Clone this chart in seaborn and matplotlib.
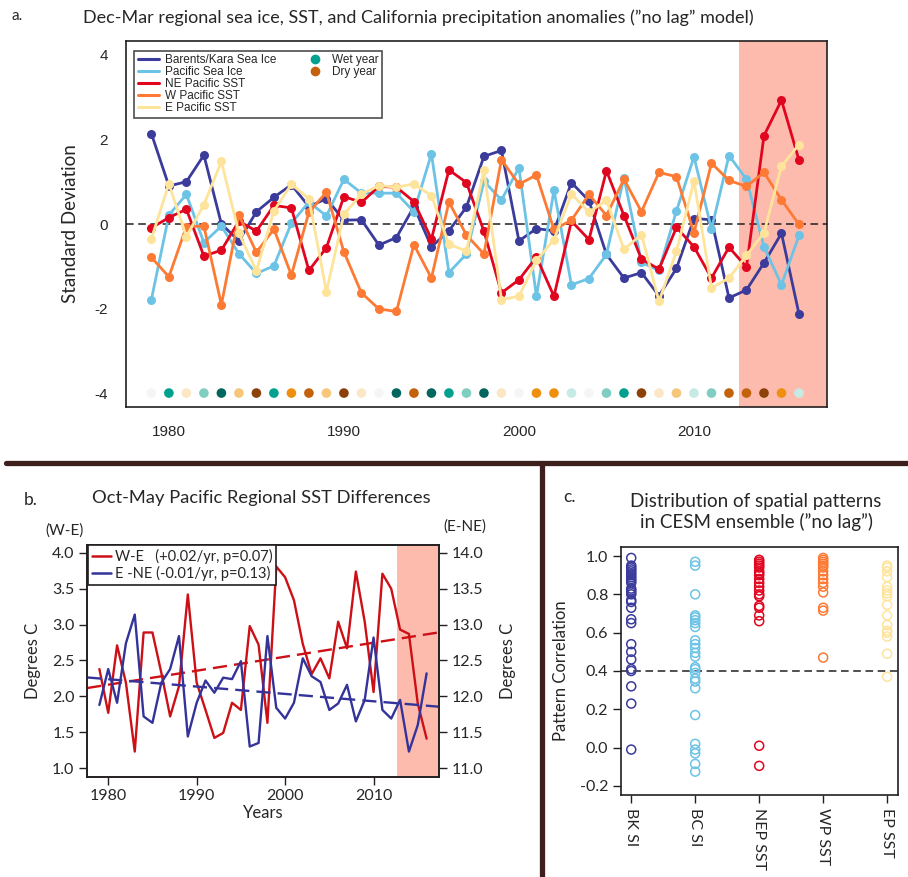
import numpy as np
import pandas as pd
import matplotlib.pyplot as plt
import seaborn as sns
from matplotlib.lines import Line2D

# ---- panel a: Dec-Mar standardized anomalies, 1979-2016 ----
years = list(range(1979, 2017))
bk_ice = [2.14, 0.90, 1.00, 1.63, 0.00, -0.40, 0.29, 0.63, 0.93, 0.41, 0.60, 0.09, 0.10, -0.50,
          -0.32, 0.41, -0.54, -0.16, 0.40, 1.60, 1.74, -0.40, -0.11, -0.16, 0.98, 0.55, -0.72, -1.28,
          -1.15, -1.70, -1.05, 0.13, 0.10, -1.75, -1.56, -0.92, -0.22, -2.13]
pac_ice = [-1.79, 0.21, 0.70, -0.44, -0.05, -0.70, -1.17, -0.99, 0.02, 0.52, 0.19, 1.06, 0.73, 0.73,
           0.73, 0.29, 1.66, -1.15, -0.71, 1.01, 0.57, 1.33, -1.71, 0.80, -1.44, -1.29, -0.72, 1.10,
           -0.91, -1.10, 0.31, 1.59, -0.12, 1.62, 1.06, -0.54, -1.44, -0.27]
ne_sst = [-0.09, 0.15, 0.35, -0.76, -0.62, 0.07, -0.17, 0.44, 0.38, -1.10, -0.56, 0.65, 0.51, 0.89,
          0.87, 0.53, -0.36, 1.28, 0.98, -0.17, -1.63, -1.32, -0.78, -1.71, 0.07, -0.37, 1.26, 0.20,
          -0.83, -1.07, -0.08, -0.54, -1.28, -0.55, -1.02, 2.09, 2.93, 1.51]
w_sst = [-0.79, -1.25, -0.06, -0.05, -1.91, 0.21, -0.67, -0.12, -1.21, 0.28, 0.75, -0.66, -1.63, -2.01,
         -2.07, -0.49, -1.28, 0.52, -0.26, -0.71, 1.52, 0.94, 1.16, -0.13, 0.09, 0.70, 0.20, 1.06,
         0.29, 1.22, 1.12, -0.21, 1.44, 1.03, 0.89, 1.22, 0.57, -0.01]
e_sst = [-0.35, 0.95, -0.30, 0.46, 1.48, -0.22, -1.11, 0.31, 0.94, 0.60, -1.60, 0.23, 0.71, 0.91,
         0.87, 0.95, 0.67, -0.48, -0.64, 1.27, -1.79, -1.71, -0.86, -0.37, 0.71, 0.28, 0.56, -0.60,
         -0.25, -1.83, -0.65, 1.02, -1.51, -1.28, -0.74, -0.21, 1.37, 1.88]
series_names = ['Barents/Kara Sea Ice', 'Pacific Sea Ice', 'NE Pacific SST', 'W Pacific SST', 'E Pacific SST']
series_colors = ['#3b3b9b', '#6cc3e5', '#e0061f', '#fd7a35', '#fee49b']

# California precipitation (wet = teal, dry = brown)
precip_colors = ['#f5f5f5', '#02a08e', '#fbe6c5', '#80cdc1', '#01665e', '#f6c77a', '#8c400a', '#02a08e',
                 '#ef8f0f', '#c3620b', '#f6c77a', '#8c400a', '#fbe6c5', '#f5f5f5', '#01665e', '#c3620b',
                 '#01665e', '#02a08e', '#80cdc1', '#01665e', '#fbe6c5', '#f5f5f5', '#ef8f0f', '#ef8f0f',
                 '#c7eae5', '#f5f5f5', '#80cdc1', '#02a08e', '#8c400a', '#fbe6c5', '#f6c77a', '#c7eae5',
                 '#80cdc1', '#c3620b', '#c3620b', '#8c400a', '#ef8f0f', '#c7eae5']

# ---- panel b: Oct-May regional SST differences ----
we_diff = [2.38, 1.77, 2.71, 2.19, 1.23, 2.89, 2.89, 2.33, 1.72, 2.14, 3.42, 2.19, 1.81, 1.42, 1.49,
           1.91, 1.81, 2.98, 2.72, 1.63, 3.81, 3.66, 3.34, 2.73, 2.31, 2.53, 2.25, 3.04, 2.67, 3.74,
           3.04, 2.06, 3.71, 3.50, 2.93, 2.87, 1.90, 1.41]
ene_diff = [11.88, 12.38, 11.91, 12.74, 13.14, 11.72, 11.63, 12.19, 12.38, 12.84, 11.44, 11.91, 12.22,
            12.05, 12.26, 12.24, 12.49, 11.30, 11.35, 12.84, 11.84, 11.69, 11.91, 12.53, 12.28, 12.20,
            11.81, 11.90, 12.16, 11.65, 11.95, 12.82, 11.81, 11.69, 11.95, 11.23, 11.60, 12.32]

# ---- panel c: pattern correlations of CESM members ----
corr_cats = ['BK SI', 'BC SI', 'NEP SST', 'WP SST', 'EP SST']
bk_corr = [0.99, 0.95, 0.94, 0.93, 0.92, 0.91, 0.90, 0.89, 0.88, 0.87, 0.86, 0.83, 0.82, 0.81, 0.80,
           0.77, 0.76, 0.73, 0.67, 0.65, 0.54, 0.50, 0.46, 0.41, 0.40, 0.32, 0.23, -0.01]
bc_corr = [0.97, 0.95, 0.80, 0.69, 0.68, 0.665, 0.65, 0.63, 0.56, 0.54, 0.52, 0.495, 0.475, 0.42,
           0.41, 0.39, 0.36, 0.345, 0.31, 0.17, 0.02, -0.01, -0.03, -0.085, -0.125]
nep_corr = [0.98, 0.97, 0.96, 0.95, 0.94, 0.92, 0.91, 0.90, 0.88, 0.86, 0.84, 0.82, 0.80, 0.79, 0.74,
            0.73, 0.69, 0.66, 0.01, -0.095]
wp_corr = [0.99, 0.98, 0.97, 0.96, 0.95, 0.94, 0.92, 0.90, 0.88, 0.86, 0.84, 0.81, 0.73, 0.715, 0.47]
ep_corr = [0.95, 0.94, 0.92, 0.89, 0.84, 0.82, 0.805, 0.79, 0.745, 0.69, 0.64, 0.61, 0.60, 0.58, 0.49, 0.37]

sns.set_style('white')
plt.rcParams['font.family'] = ['Lato', 'DejaVu Sans']
plt.rcParams['axes.unicode_minus'] = False
ink = '#231f20'
pink = '#fdbbae'

fig = plt.figure(figsize=(9.08, 8.77), dpi=100)

# ================= panel a =================
ax = fig.add_axes([126 / 908, 1 - 407 / 877, 701 / 908, 366 / 877])
ax.axvspan(2012.6, 2017.6, color=pink, lw=0, zorder=0)
ax.axhline(0, color=ink, lw=1.1, ls=(0, (5, 3)), zorder=1)

long_df = pd.DataFrame({
    'year': years * 5,
    'value': bk_ice + pac_ice + ne_sst + w_sst + e_sst,
    'series': [n for n in series_names for _ in years],
})
sns.lineplot(data=long_df, x='year', y='value', hue='series', hue_order=series_names,
             palette=series_colors, marker='o', markersize=6.5, markeredgewidth=0,
             linewidth=2.0, legend=False, ax=ax)
sns.scatterplot(x=years, y=[-4] * len(years), hue=years, palette=dict(zip(years, precip_colors)),
                s=48, linewidth=0, legend=False, ax=ax)

ax.set_xlim(1977.55, 2017.6)
ax.set_ylim(-4.33, 4.33)
ax.set_xticks([1980, 1990, 2000, 2010])
ax.set_yticks([-4, -2, 0, 2, 4])
ax.tick_params(direction='out', length=7, width=1, color='#6d6e71', labelsize=11, pad=6)
for lab in ax.get_xticklabels() + ax.get_yticklabels():
    lab.set_family(['Liberation Sans', 'DejaVu Sans'])
ax.set_xlabel('')
ax.set_ylabel('Standard Deviation', fontsize=13.5, labelpad=11)
for s in ax.spines.values():
    s.set_color(ink)
    s.set_linewidth(1.2)

handles = [Line2D([], [], color=c, lw=2.2) for c in series_colors]
handles += [Line2D([], [], ls='', marker='o', ms=7, mew=0, color='#02a08e'),
            Line2D([], [], ls='', marker='o', ms=7, mew=0, color='#c3620b')]
handles += [Line2D([], [], alpha=0)] * 3
labels = series_names + ['Wet year', 'Dry year', '', '', '']
leg = ax.legend(handles, labels, ncol=2, loc='upper left', bbox_to_anchor=(0.0114, 0.973),
                borderaxespad=0, prop={'family': 'Liberation Sans', 'size': 8.5},
                frameon=True, fancybox=False, edgecolor=ink, handlelength=1.8,
                handletextpad=0.5, labelspacing=0.0, columnspacing=2.4, borderpad=0.3)
leg.get_frame().set_linewidth(1.2)

fig.text(12 / 908, 1 - 16 / 877, 'a.', fontsize=11, va='center')
fig.text(418 / 908, 1 - 18 / 877,
         'Dec-Mar regional sea ice, SST, and California precipitation anomalies (\u201dno lag\u201d model)',
         fontsize=13, ha='center', va='center')

# ================= panel b =================
axb = fig.add_axes([87 / 908, 1 - 777 / 877, 352 / 908, 232 / 877])
axb.axvspan(2012.6, 2017.4, color=pink, lw=0, zorder=0)
red_b, blue_b = '#cc1016', '#33339a'
xx = np.array([1977.6, 2017.4])
fit_we = np.polyfit(years, we_diff, 1)
fit_ene = np.polyfit(years, ene_diff, 1)
sns.lineplot(x=years, y=we_diff, color=red_b, lw=1.7, ax=axb)
sns.lineplot(x=xx, y=np.polyval(fit_we, xx), color=red_b, lw=1.7, ls=(0, (6, 3)), ax=axb)
axb.set_xlim(1977.6, 2017.4)
axb.set_ylim(0.875, 4.11)
axb.set_yticks(np.arange(1.0, 4.01, 0.5))
axb.set_yticklabels([f'{v:.1f}' for v in np.arange(1.0, 4.01, 0.5)])
axb.set_xticks([1980, 1990, 2000, 2010])
axb.tick_params(direction='out', length=6, width=1, color=ink, labelsize=11.5, pad=3)
axb.set_xlabel('Years', fontsize=12, labelpad=1)
axb.set_ylabel('Degrees C', fontsize=12, labelpad=8)

axb2 = axb.twinx()
sns.lineplot(x=years, y=ene_diff, color=blue_b, lw=1.7, ax=axb2)
sns.lineplot(x=xx, y=np.polyval(fit_ene, xx), color=blue_b, lw=1.7, ls=(0, (6, 3)), ax=axb2)
axb2.set_ylim(10.875, 14.11)
axb2.set_yticks(np.arange(11.0, 14.01, 0.5))
axb2.set_yticklabels([f'{v:.1f}' for v in np.arange(11.0, 14.01, 0.5)])
axb2.tick_params(direction='out', length=6, width=1, color=ink, labelsize=11.5, pad=3, right=True)
axb2.set_ylabel('Degrees C', fontsize=12, labelpad=12)
axb2.set_xlabel('')
for a in (axb, axb2):
    for s in a.spines.values():
        s.set_color(ink)
        s.set_linewidth(1.2)
axb.tick_params(left=True, bottom=True)

hb = [Line2D([], [], color=red_b, lw=1.8), Line2D([], [], color=blue_b, lw=1.8)]
legb = axb2.legend(hb, ['W-E   (+0.02/yr, p=0.07)', 'E -NE (-0.01/yr, p=0.13)'], loc='upper left',
                   bbox_to_anchor=(0.003, 1.0), borderaxespad=0, fontsize=10.5, frameon=True,
                   fancybox=False, edgecolor=ink, framealpha=1, handlelength=1.3, handletextpad=0.3,
                   labelspacing=0.15, borderpad=0.25)
legb.get_frame().set_linewidth(1.2)

fig.text(24 / 908, 1 - 500 / 877, 'b.', fontsize=12.5, va='center')
fig.text(261 / 908, 1 - 498 / 877, 'Oct-May Pacific Regional SST Differences', fontsize=13.2,
         ha='center', va='center')
fig.text(65 / 908, 1 - 531 / 877, '(W-E)', fontsize=11, ha='center', va='center')
fig.text(465 / 908, 1 - 527 / 877, '(E-NE)', fontsize=11, ha='center', va='center')

# ================= panel c =================
axc = fig.add_axes([621 / 908, 1 - 795 / 877, 277 / 908, 248 / 877])
axc.axhline(0.4, color=ink, lw=1.1, ls=(0, (5, 3)), zorder=0)
corr_sets = [bk_corr, bc_corr, nep_corr, wp_corr, ep_corr]
for i, (vals, col) in enumerate(zip(corr_sets, series_colors)):
    sns.scatterplot(x=[i] * len(vals), y=vals, color=col, facecolors='none', edgecolor=col,
                    linewidth=1.1, s=42, ax=axc)
axc.set_xlim(-0.16, 4.17)
axc.set_ylim(-0.247, 1.047)
axc.set_xticks(range(len(corr_cats)))
axc.set_xticklabels(corr_cats, rotation=270, fontsize=11.5)
axc.set_yticks(np.arange(-0.2, 1.01, 0.2))
axc.set_yticklabels([f'{v:.1f}' for v in np.arange(-0.2, 1.01, 0.2)])
axc.tick_params(direction='out', length=6, width=1, color=ink, labelsize=11.5, pad=3,
                left=True, bottom=True)
axc.set_ylabel('Pattern Correlation', fontsize=12, labelpad=8)
for s in axc.spines.values():
    s.set_color(ink)
    s.set_linewidth(1.2)

fig.text(563 / 908, 1 - 497 / 877, 'c.', fontsize=12.5, va='center')
fig.text(756 / 908, 1 - 512 / 877, 'Distribution of spatial patterns\nin CESM ensemble (\u201dno lag\u201d)',
         fontsize=13.5, ha='center', va='center', linespacing=1.25)

# panel separators
sep = '#3d201d'
fig.add_artist(Line2D([6 / 908, 1], [1 - 463 / 877] * 2, transform=fig.transFigure, color=sep, lw=3.8))
fig.add_artist(Line2D([542 / 908] * 2, [1 - 463 / 877, 0], transform=fig.transFigure, color=sep, lw=3.8))

fig.savefig('out.png', dpi=100)
